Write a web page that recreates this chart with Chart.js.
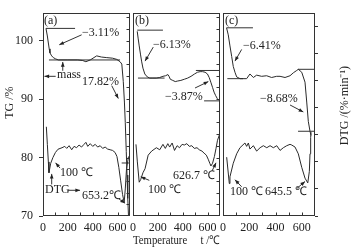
<!DOCTYPE html>
<html>
<head>
<meta charset="utf-8">
<script src="https://cdn.jsdelivr.net/npm/chart.js@4.4.1/dist/chart.umd.min.js"></script>
<style>
  html, body { margin: 0; padding: 0; background: #fff; }
  #wrap { width: 360px; height: 251px; }
</style>
</head>
<body>
<div id="wrap"><canvas id="tgChart" width="360" height="251"></canvas></div>
<script>
// TG / DTG curves of samples (a), (b), (c)
const panels = ['xa', 'xb', 'xc'];
const tempTicks = [0, 200, 400, 600];
const tgTicks = [70, 80, 90, 100];
const dtgTicks = [-4, -2, 0, 2, 4, 6, 8, 10];

// sample (a)
const tempTgA = [24, 35, 43, 50, 56, 70, 83, 100, 123, 200, 280, 320, 345, 380, 432, 470, 513, 560, 593, 620, 634, 646, 655, 662, 670, 676, 682, 688];
const tgA = [102.1, 100.8, 99.6, 98.6, 97.9, 97.4, 97.1, 96.9, 96.7, 96.7, 96.7, 96.6, 96.4, 96.7, 97.4, 97.2, 97.1, 97.0, 96.8, 96.4, 96.0, 93.0, 89.5, 86.0, 81.0, 77.0, 73.0, 70.0];
const tempDtgA = [27, 35, 43, 48, 52, 62, 80, 100, 121, 153, 175, 191, 210, 231, 250, 270, 290, 310, 330, 345, 360, 380, 400, 420, 440, 460, 480, 500, 520, 540, 560, 580, 595, 610, 625, 640, 653, 662, 672, 688];
const dtgA = [1.6, 0.3, -1.0, -1.8, -1.6, -1.1, -0.67, -0.3, -0.06, 0.05, 0.15, 0.0, 0.2, -0.1, 0.15, 0.05, 0.25, 0.1, 0.3, 0.45, 0.15, 0.35, 0.15, 0.3, 0.1, 0.2, 0.0, 0.1, -0.05, -0.1, -0.15, -0.3, -0.6, -1.4, -2.4, -3.4, -4.0, -3.0, -1.5, -0.6];

// sample (b)
const tempTgB = [34, 42, 50, 60, 69, 80, 95, 115, 135, 160, 188, 215, 241, 262, 281, 290, 300, 320, 340, 360, 385, 413, 440, 467, 495, 519, 540, 559, 580, 599, 613, 626, 640, 652, 665, 678, 692];
const tgB = [101.6, 100.3, 99.1, 97.7, 96.5, 95.3, 94.3, 93.8, 93.6, 93.6, 93.6, 93.7, 93.9, 94.0, 94.2, 93.9, 93.4, 93.2, 93.0, 93.1, 93.2, 93.4, 93.6, 93.9, 94.3, 94.6, 94.7, 94.7, 94.6, 94.3, 93.7, 92.9, 92.0, 91.2, 90.6, 90.1, 89.8];
const tempDtgB = [24, 35, 50, 62, 80, 97, 122, 150, 188, 215, 241, 260, 280, 295, 315, 334, 355, 374, 395, 413, 433, 453, 473, 493, 515, 533, 555, 572, 590, 605, 618, 627, 640, 655, 668, 680, 695];
const dtgB = [0.3, -1.0, -2.5, -2.3, -1.8, -1.5, -0.5, -0.2, 0.05, -0.1, 0.3, 0.0, 0.35, 0.1, 0.4, -0.15, 0.2, 0.05, 0.3, 0.25, 0.35, 0.15, 0.2, 0.0, 0.05, -0.1, -0.2, -0.35, -0.5, -0.8, -1.1, -1.3, -1.1, -0.6, 0.0, 0.6, 1.0];

// sample (c)
const tempTgC = [27, 40, 53, 66, 78, 91, 104, 130, 180, 205, 231, 256, 294, 332, 370, 408, 434, 472, 510, 535, 561, 573, 599, 624, 637, 649, 662, 670];
const tgC = [102.2, 101.0, 99.1, 97.3, 95.6, 94.6, 93.8, 93.5, 93.5, 94.3, 93.7, 94.1, 93.9, 94.0, 93.7, 93.9, 93.9, 93.7, 94.0, 94.5, 94.9, 95.1, 94.6, 92.9, 89.5, 86.2, 84.5, 83.8];
const tempDtgC = [28, 48, 53, 78, 104, 129, 167, 180, 193, 205, 231, 256, 282, 307, 333, 358, 383, 409, 434, 459, 485, 510, 523, 548, 573, 599, 624, 645, 657, 662, 667, 670];
const dtgC = [-0.65, -2.6, -2.1, -1.1, -0.4, 0.05, 0.4, 0.15, 0.4, -0.05, 0.2, -0.2, 0.05, 0.2, 0.05, 0.2, 0.05, 0.2, -0.15, 0.05, 0.2, 0.3, 0.25, 0.1, -0.4, -1.4, -2.2, -2.55, -1.7, -0.4, 0.8, 1.2];

// mass-loss guide lines (panel, TG level, from / to temperature)
const guidePanel = ['xa', 'xa', 'xa', 'xb', 'xb', 'xb', 'xb', 'xc', 'xc', 'xc', 'xc'];
const guideTg = [102.1, 96.7, 79.07, 101.8, 93.6, 94.9, 89.7, 102.2, 93.5, 95.1, 84.5];
const guideFrom = [24, 48, 633, 34, 40, 506, 572, 27, 33, 571, 571];
const guideTo = [258, 620, 700, 241, 254, 700, 700, 228, 152, 700, 700];

// annotations, placed in data units (temperature, TG)
const noteText = ['(a)', '\u22123.11%', 'mass', '17.82%', '100 \u2103', 'DTG', '653.2\u2103',
  '(b)', '\u22126.13%', '\u22123.87%', '100 \u2103', '626.7 \u2103',
  '(c)', '\u22126.41%', '\u22128.68%', '100 \u2103', '645.5 \u2103'];
const notePanel = ['xa', 'xa', 'xa', 'xa', 'xa', 'xa', 'xa', 'xb', 'xb', 'xb', 'xb', 'xb', 'xc', 'xc', 'xc', 'xc', 'xc'];
const noteT = [8, 314, 113, 314, 137, 16, 314, 16, 161, 258, 121, 322, 15, 152, 282, 53, 320];
const noteTg = [103.4, 101.3, 94.2, 92.9, 77.45, 74.4, 73.5, 103.4, 99.3, 90.4, 74.4, 76.9, 103.4, 99.05, 90.1, 74.1, 74.1];

const arrowPanel = ['xa', 'xa', 'xa', 'xa', 'xa', 'xa', 'xa', 'xa', 'xb', 'xb', 'xb', 'xb', 'xc', 'xc', 'xc', 'xc'];
const arrowFrom = [[311, 101.0], [102, 93.9], [159, 94.85], [553, 92.3], [137, 78.2], [70, 75.4], [201, 74.4], [612, 72.9],
  [163, 98.9], [499, 91.9], [131, 76.1], [636, 77.7],
  [142, 98.5], [510, 89.0], [142, 75.0], [561, 74.7]];
const arrowTo = [[131, 99.3], [12, 93.9], [159, 96.35], [606, 90.1], [101, 79.1], [70, 77.2], [298, 74.4], [660, 72.2],
  [97, 96.5], [606, 93.0], [62, 76.7], [668, 79.1],
  [91, 96.5], [611, 87.8], [91, 76.2], [624, 75.9]];

const ink = '#2a2a2a';
Chart.defaults.font.family = '"Liberation Serif", "Times New Roman", serif';
Chart.defaults.font.size = 12;
Chart.defaults.color = '#222';

function curve(temps, values, xId, yId) {
    return {
        data: temps.map((t, i) => ({ x: t, y: values[i] })),
        xAxisID: xId,
        yAxisID: yId,
        borderColor: ink,
        borderWidth: 1,
        pointRadius: 0,
        tension: 0,
        fill: false
    };
}

function tempAxis(weight, showTicks, title) {
    return {
        type: 'linear',
        position: 'bottom',
        stack: 'temp',
        stackWeight: weight,
        min: 0,
        max: showTicks ? 700 : 1,
        grid: { display: false, drawTicks: false },
        border: { display: false },
        ticks: {
            display: showTicks,
            stepSize: 200,
            includeBounds: false,
            autoSkip: false,
            maxRotation: 0,
            padding: 5,
            callback: v => tempTicks.includes(v) ? v : ''
        },
        title: { display: !!title, text: title || '', padding: { top: 0, bottom: 3 } },
        afterFit: s => { s.height = 35; }
    };
}

function drawArrow(ctx, x1, y1, x2, y2) {
    const a = Math.atan2(y2 - y1, x2 - x1);
    ctx.beginPath();
    ctx.moveTo(x1, y1);
    ctx.lineTo(x2, y2);
    ctx.stroke();
    ctx.beginPath();
    ctx.moveTo(x2, y2);
    ctx.lineTo(x2 - 5 * Math.cos(a - 0.38), y2 - 5 * Math.sin(a - 0.38));
    ctx.lineTo(x2 - 5 * Math.cos(a + 0.38), y2 - 5 * Math.sin(a + 0.38));
    ctx.closePath();
    ctx.fill();
}

// panel frames, inner ticks, annotations and rotated axis titles
const panelDecor = {
    id: 'panelDecor',
    afterDraw(chart) {
        const ctx = chart.ctx;
        const tg = chart.scales.yTg;
        const dtg = chart.scales.yDtg;
        const top = Math.round(chart.chartArea.top) + 0.5;
        const bottom = Math.round(chart.chartArea.bottom) - 0.5;
        ctx.save();
        ctx.strokeStyle = '#333';
        ctx.fillStyle = '#222';
        ctx.lineWidth = 1;

        panels.forEach((id, i) => {
            const s = chart.scales[id];
            const l = Math.round(s.left) + 0.5;
            const r = Math.round(s.right) - 0.5;
            ctx.strokeRect(l, top, r - l, bottom - top);
            ctx.beginPath();
            for (let v = 100; v < 700; v += 100) {
                const x = Math.round(s.getPixelForValue(v)) + 0.5;
                ctx.moveTo(x, bottom);
                ctx.lineTo(x, bottom - 3);
            }
            if (i < panels.length - 1) {
                for (let v = 72; v < tg.max; v += 2) {
                    const y = Math.round(tg.getPixelForValue(v)) + 0.5;
                    ctx.moveTo(r, y);
                    ctx.lineTo(r - 3, y);
                }
            }
            ctx.stroke();
        });

        ctx.font = '12px "Liberation Serif", serif';
        ctx.textBaseline = 'middle';
        ctx.textAlign = 'left';
        noteText.forEach((t, i) => {
            const s = chart.scales[notePanel[i]];
            ctx.fillText(t, s.getPixelForValue(noteT[i]), tg.getPixelForValue(noteTg[i]));
        });

        arrowPanel.forEach((id, i) => {
            const s = chart.scales[id];
            drawArrow(ctx,
                s.getPixelForValue(arrowFrom[i][0]), tg.getPixelForValue(arrowFrom[i][1]),
                s.getPixelForValue(arrowTo[i][0]), tg.getPixelForValue(arrowTo[i][1]));
        });

        const midY = (chart.chartArea.top + chart.chartArea.bottom) / 2;
        ctx.textAlign = 'center';
        ctx.save();
        ctx.translate(tg.left + 10, midY - 12);
        ctx.rotate(-Math.PI / 2);
        ctx.fillText('TG /%', 0, 0);
        ctx.restore();
        ctx.save();
        ctx.translate(dtg.right - 15, midY - 9);
        ctx.rotate(-Math.PI / 2);
        ctx.fillText('DTG /(%\u00b7min\u207b\u00b9)', 0, 0);
        ctx.restore();
        ctx.restore();
    }
};

const datasets = [
    curve(tempTgA, tgA, 'xa', 'yTg'),
    curve(tempDtgA, dtgA, 'xa', 'yDtg'),
    curve(tempTgB, tgB, 'xb', 'yTg'),
    curve(tempDtgB, dtgB, 'xb', 'yDtg'),
    curve(tempTgC, tgC, 'xc', 'yTg'),
    curve(tempDtgC, dtgC, 'xc', 'yDtg')
];
guidePanel.forEach((id, i) => {
    const line = curve([guideFrom[i], guideTo[i]], [guideTg[i], guideTg[i]], id, 'yTg');
    line.borderColor = '#333';
    datasets.push(line);
});

new Chart(document.getElementById('tgChart'), {
    type: 'line',
    data: { datasets: datasets },
    options: {
        responsive: false,
        animation: false,
        devicePixelRatio: 1,
        layout: { padding: { top: 10, left: 0, right: 0, bottom: 0 } },
        plugins: { legend: { display: false }, tooltip: { enabled: false } },
        scales: {
            xa: tempAxis(87, true),
            xg1: tempAxis(3, false),
            xb: tempAxis(87, true, 'Temperature     t /\u2103'),
            xg2: tempAxis(3, false),
            xc: tempAxis(92, true),
            yTg: {
                type: 'linear',
                position: 'left',
                min: 70,
                max: 104.7,
                grid: { drawOnChartArea: false, tickLength: 4, color: '#333' },
                border: { display: false },
                ticks: {
                    stepSize: 10,
                    includeBounds: false,
                    padding: 6,
                    callback: v => tgTicks.includes(v) ? v : ''
                },
                afterFit: s => { s.width = 43; }
            },
            yDtg: {
                type: 'linear',
                position: 'right',
                min: -5,
                max: 10,
                grid: { drawOnChartArea: false, tickLength: 3, color: '#333' },
                border: { display: false },
                ticks: {
                    stepSize: 1,
                    padding: 2,
                    callback: v => dtgTicks.includes(v) ? String(v).replace('-', '\u2212') : ''
                },
                afterFit: s => { s.width = 45; }
            }
        }
    },
    plugins: [panelDecor]
});
</script>
</body>
</html>
